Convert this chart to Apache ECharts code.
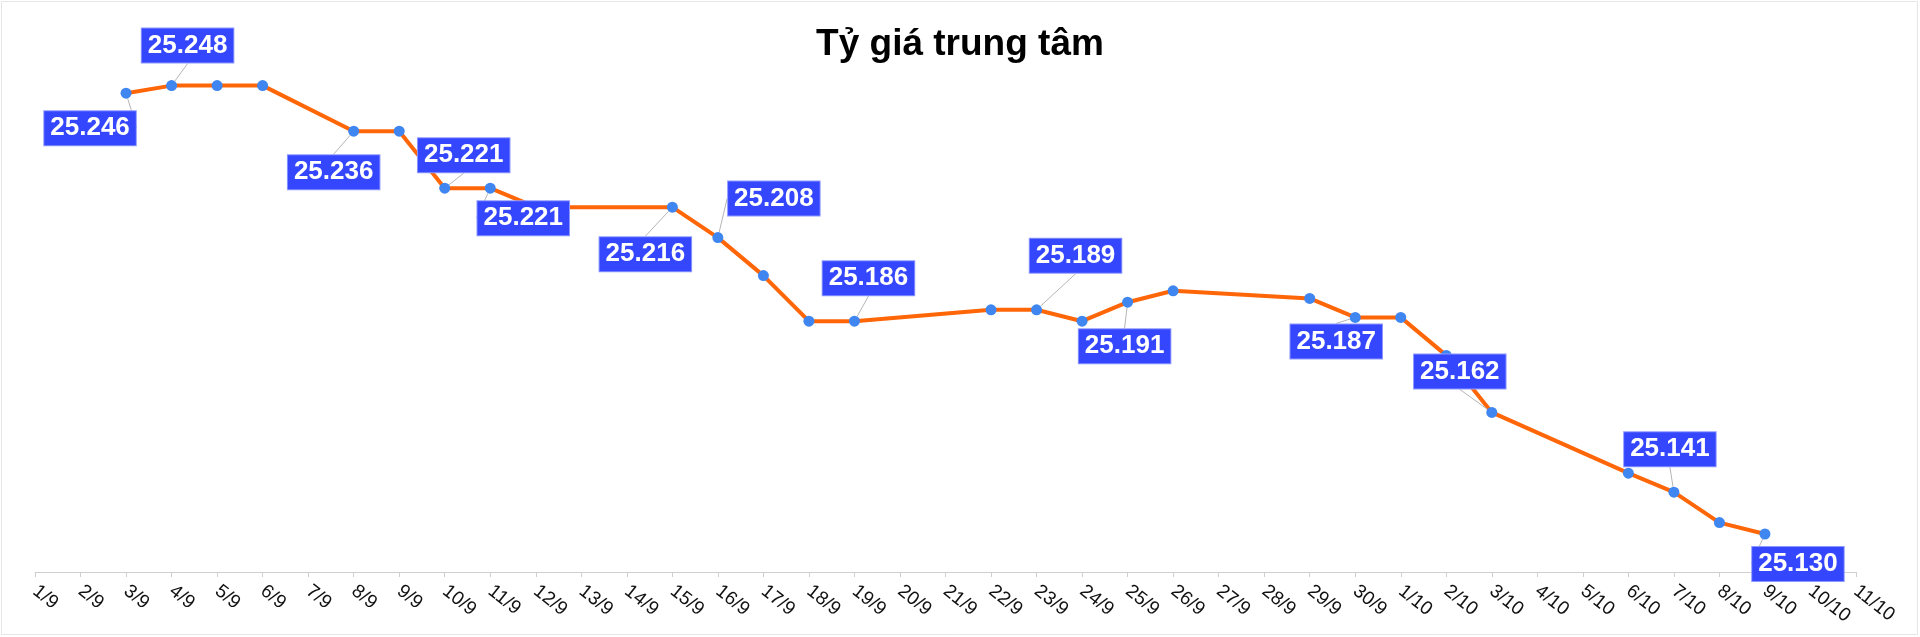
<!DOCTYPE html>
<html>
<head>
<meta charset="utf-8">
<script src="https://cdn.jsdelivr.net/npm/echarts@6/dist/echarts.min.js"></script>
<style>
html,body{margin:0;padding:0;background:#fff;}
#chart{width:1920px;height:637px;}
</style>
</head>
<body>
<div id="chart"></div>
<script>
const titleText = 'Tỷ giá trung tâm';
const categories = ['1/9','2/9','3/9','4/9','5/9','6/9','7/9','8/9','9/9','10/9','11/9','12/9','13/9','14/9','15/9','16/9','17/9','18/9','19/9','20/9','21/9','22/9','23/9','24/9','25/9','26/9','27/9','28/9','29/9','30/9','1/10','2/10','3/10','4/10','5/10','6/10','7/10','8/10','9/10','10/10','11/10'];
const rates = [null,null,25.246,25.248,25.248,25.248,null,25.236,25.236,25.221,25.221,25.216,null,null,25.216,25.208,25.198,25.186,25.186,null,null,25.189,25.189,25.186,25.191,25.194,null,null,25.192,25.187,25.187,25.177,25.162,null,null,25.146,25.141,25.133,25.130,null,null];
const labeledDates = ['3/9','4/9','8/9','10/9','11/9','15/9','16/9','19/9','23/9','25/9','30/9','3/10','7/10','9/10'];

// label placement offsets (style only)
const labelOffsets = {
  '3/9':[-36,35], '4/9':[16,-40], '8/9':[-20,41], '10/9':[19,-33], '11/9':[33,30],
  '15/9':[-27,47], '16/9':[56,-39], '19/9':[14,-43], '23/9':[39,-54], '25/9':[-3,44],
  '30/9':[-19,24], '3/10':[-32,-41], '7/10':[-4,-43], '9/10':[33,30]
};

const seriesData = rates.map((v, i) => {
  const c = categories[i];
  if (v !== null && labeledDates.indexOf(c) >= 0) {
    return { value: v, label: { show: true } };
  }
  return v;
});

const chart = echarts.init(document.getElementById('chart'));
chart.setOption({
  animation: false,
  backgroundColor: '#ffffff',
  title: {
    text: titleText,
    left: 'center',
    top: 21,
    textStyle: { fontFamily: 'Liberation Sans, Arial, sans-serif', fontSize: 37, fontWeight: 'bold', color: '#000' }
  },
  graphic: [{
    type: 'rect', silent: true, z: -1,
    shape: { x: 1.5, y: 1.5, width: 1916, height: 633 },
    style: { fill: 'none', stroke: '#e6e6e6', lineWidth: 1 }
  }],
  grid: { left: 35, right: 64, top: 40, bottom: 65, containLabel: false },
  xAxis: {
    type: 'category',
    data: categories,
    boundaryGap: false,
    axisLine: { show: true, lineStyle: { color: '#cfcfcf', width: 1 } },
    axisTick: { show: true, length: 5, interval: 0, lineStyle: { color: '#cfcfcf' } },
    axisLabel: {
      interval: 0, rotate: -38, margin: 17,
      fontFamily: 'Liberation Sans, Arial, sans-serif', fontSize: 19, color: '#111'
    },
    splitLine: { show: false }
  },
  yAxis: {
    type: 'value', min: 25.12, max: 25.26, show: false,
    splitLine: { show: false }
  },
  series: [{
    type: 'line',
    data: seriesData,
    connectNulls: true,
    symbol: 'circle',
    symbolSize: 11,
    showAllSymbol: true,
    lineStyle: { color: '#FF6608', width: 4 },
    itemStyle: { color: '#3F86F0' },
    label: {
      show: false,
      position: 'inside',
      formatter: p => p.value.toFixed(3),
      backgroundColor: '#3447FF',
      borderColor: '#8d98ff',
      borderWidth: 1,
      padding: [4, 6, 3, 6],
      color: '#fff',
      fontFamily: 'Liberation Sans, Arial, sans-serif',
      fontWeight: 'bold',
      fontSize: 26,
      lineHeight: 27
    },
    labelLine: { show: true, lineStyle: { color: '#b5b5b5', width: 1 } },
    labelLayout: function (params) {
      const c = categories[params.dataIndex];
      const o = labelOffsets[c];
      return o ? { dx: o[0], dy: o[1] } : {};
    },
    z: 3
  }]
});
</script>
</body>
</html>
